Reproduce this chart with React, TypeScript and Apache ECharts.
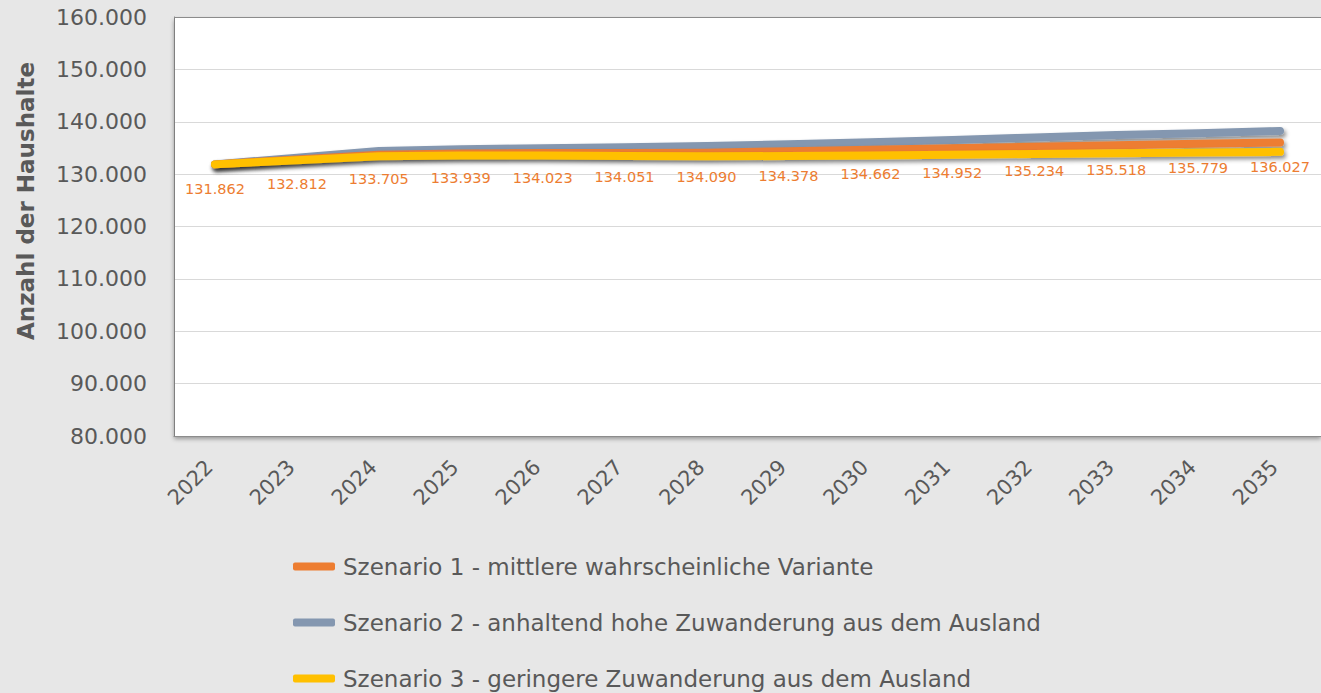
import React, { useEffect, useRef } from "react";
import * as echarts from "echarts";

const years = ["2022","2023","2024","2025","2026","2027","2028","2029","2030","2031","2032","2033","2034","2035"];
const szenario1 = [131862,132812,133705,133939,134023,134051,134090,134378,134662,134952,135234,135518,135779,136027];
const szenario2 = [131862,133150,134400,134750,134950,135150,135350,135700,136100,136500,137000,137450,137800,138250];
const szenario3 = [131862,132650,133400,133550,133550,133450,133400,133450,133550,133700,133850,134000,134150,134250];
const names = [
  "Szenario 1 - mittlere wahrscheinliche Variante",
  "Szenario 2 - anhaltend hohe Zuwanderung aus dem Ausland",
  "Szenario 3 - geringere Zuwanderung aus dem Ausland",
];
const colors = ["#ED7D31", "#8497B0", "#FFC000"];

const FONT = "DejaVu Sans";
const fmt = (v: number) => String(Math.round(v)).replace(/\B(?=(\d{3})+(?!\d))/g, ".");

export default function App() {
  const ref = useRef<HTMLDivElement>(null);
  useEffect(() => {
    const chart = echarts.init(ref.current!, null, { renderer: "svg" });
    const lineStyle = (c: string) => ({
      color: c, width: 8, cap: "round" as const, join: "round" as const,
      shadowColor: "rgba(0,0,0,0.45)", shadowBlur: 4, shadowOffsetX: 2, shadowOffsetY: 3,
    });
    chart.setOption({
      animation: false,
      backgroundColor: "#E7E7E7",
      textStyle: { fontFamily: FONT },
      grid: {
        left: 174, top: 17, right: -8, bottom: 257,
        show: true, backgroundColor: "#FFFFFF", borderWidth: 0,
        shadowColor: "rgba(0,0,0,0.35)", shadowBlur: 4, shadowOffsetX: 0, shadowOffsetY: 3,
      },
      xAxis: {
        type: "category", data: years, boundaryGap: true,
        axisLine: { show: true, lineStyle: { color: "#8C8C8C" } },
        axisTick: { show: false },
        axisLabel: { rotate: 45, margin: 22, padding: [0, 8, 0, 0], color: "#595959", fontSize: 21, fontFamily: FONT },
      },
      yAxis: {
        type: "value", min: 80000, max: 160000, interval: 10000,
        axisLine: { show: true, lineStyle: { color: "#7F7F7F" } },
        axisTick: { show: false },
        splitLine: { lineStyle: { color: "#D9D9D9", width: 1 } },
        axisLabel: { margin: 27, color: "#595959", fontSize: 22, fontFamily: FONT, formatter: fmt },
      },
      legend: names.map((n, i) => ({
        orient: "horizontal", left: 293, top: 555 + i * 56, padding: 0,
        data: [n],
        itemWidth: 42, itemHeight: 8, icon: "roundRect",
        textStyle: { color: "#595959", fontSize: 23, fontFamily: FONT, padding: [0, 0, 0, 3] },
      })),
      graphic: [
        {
          type: "text", left: 14, top: 62, rotation: Math.PI / 2,
          style: { text: "Anzahl der Haushalte", fill: "#595959", font: `bold 23px "${FONT}"` },
        },
        {
          type: "line", shape: { x1: 174, y1: 17.5, x2: 1321, y2: 17.5 },
          style: { stroke: "#8C8C8C", lineWidth: 1 }, z: 10,
        },
      ],
      series: [
        { name: names[1], type: "line", data: szenario2, symbol: "none", lineStyle: lineStyle(colors[1]), itemStyle: { color: colors[1] }, z: 2 },
        {
          name: names[0], type: "line", data: szenario1, symbol: "circle", symbolSize: 0.01, showSymbol: true,
          lineStyle: lineStyle(colors[0]), itemStyle: { color: colors[0] }, z: 3,
          label: { show: true, position: "bottom", distance: 17, color: "#ED7D31", fontSize: 14.5, fontFamily: FONT, formatter: (p: any) => fmt(p.value) },
        },
        { name: names[2], type: "line", data: szenario3, symbol: "none", lineStyle: lineStyle(colors[2]), itemStyle: { color: colors[2] }, z: 4 },
      ],
    });
    return () => chart.dispose();
  }, []);
  return <div ref={ref} style={{ position: "absolute", left: 0, top: 0, width: 1321, height: 693 }} />;
}
